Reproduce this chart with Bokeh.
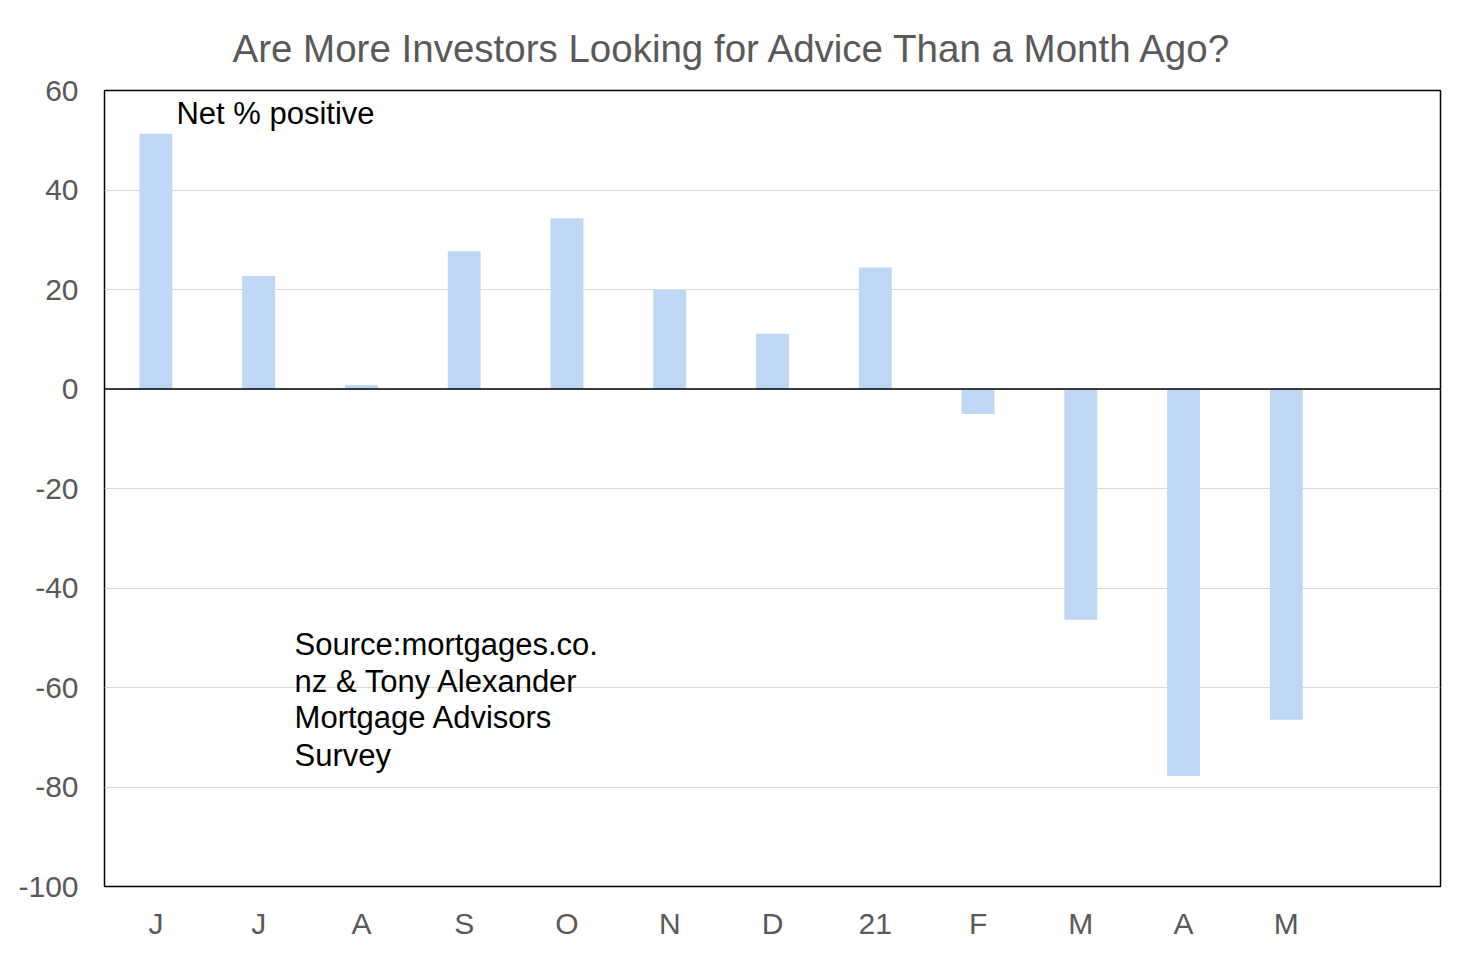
import numpy as np
from bokeh.plotting import figure
from bokeh.models import Range1d, FixedTicker, Span, Label
from bokeh.embed import file_html
from bokeh.resources import INLINE

# Data
labels = ["J", "J", "A", "S", "O", "N", "D", "21", "F", "M", "A", "M"]
values = [51.3, 22.7, 0.8, 27.7, 34.3, 19.9, 11.1, 24.4, -5.0, -46.4, -77.8, -66.5]
y_ticks = [60, 40, 20, 0, -20, -40, -60, -80, -100]
title_text = "Are More Investors Looking for Advice Than a Month Ago?"
note_text = "Net % positive"
source_lines = ["Source:mortgages.co.", "nz & Tony Alexander", "Mortgage Advisors", "Survey"]

n_slots = len(labels) + 1
xs = np.arange(len(labels)) + 0.5

FONT = "Liberation Sans"
GREY = "#595959"

p = figure(width=1454, height=946, output_backend="svg", toolbar_location=None,
           x_range=Range1d(0, n_slots), y_range=Range1d(-100, 60),
           min_border_left=104, min_border_right=14, min_border_top=90, min_border_bottom=60)

p.title.text = title_text
p.title.text_font = FONT
p.title.text_font_size = "38.5px"
p.title.text_font_style = "normal"
p.title.text_color = GREY
p.title.align = "left"
p.title.offset = 128
p.title.standoff = 38
p.title.vertical_align = "top"

p.vbar(x=xs, top=values, bottom=0, width=0.32, fill_color="#BDD7F4", line_color=None)

p.add_layout(Span(location=0, dimension="width", line_color="black", line_width=1.5))

p.outline_line_color = "black"
p.outline_line_width = 1.5

p.xgrid.visible = False
p.ygrid.grid_line_color = "#D9D9D9"
p.ygrid.grid_line_width = 1

p.yaxis.ticker = FixedTicker(ticks=y_ticks)
p.yaxis.major_label_overrides = {t: str(t) for t in y_ticks}
p.xaxis.ticker = FixedTicker(ticks=list(xs))
p.xaxis.major_label_overrides = {float(x): l for x, l in zip(xs, labels)}

for ax in (p.xaxis[0], p.yaxis[0]):
    ax.axis_line_color = None
    ax.major_tick_line_color = None
    ax.minor_tick_line_color = None
    ax.major_label_text_font = FONT
    ax.major_label_text_font_size = "30px"
    ax.major_label_text_color = GREY
p.yaxis.major_label_standoff = 20
p.xaxis.major_label_standoff = 14

p.add_layout(Label(x=0.70, y=55.3, text=note_text, text_font=FONT, text_font_size="31px",
                   text_color="black", text_baseline="middle", text_align="left"))

src_y = [-51.3, -58.7, -66.1, -73.6]
for line, yy in zip(source_lines, src_y):
    p.add_layout(Label(x=1.85, y=yy, text=line, text_font=FONT, text_font_size="31px",
                       text_color="black", text_baseline="middle", text_align="left"))

open("out.html", "w").write(file_html(p, INLINE))
